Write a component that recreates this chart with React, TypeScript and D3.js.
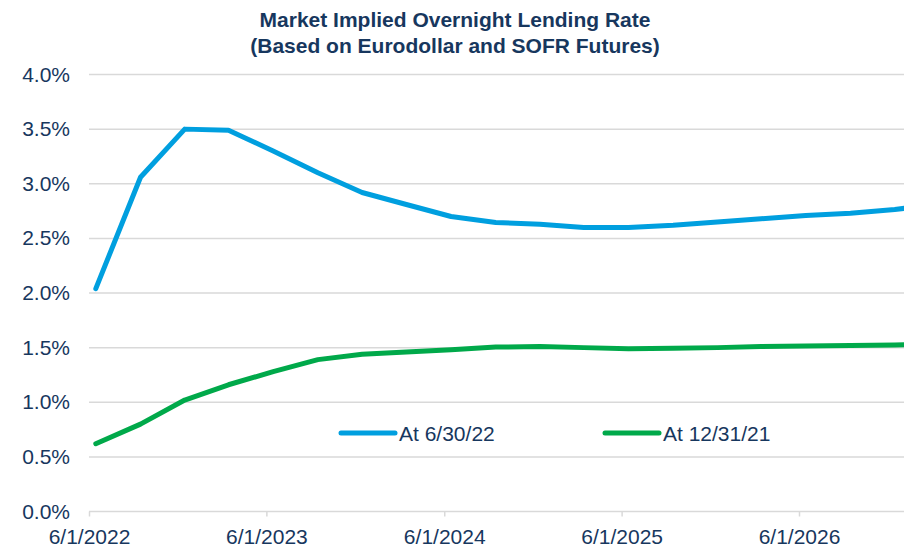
import React, { useRef, useEffect } from 'react'
import * as d3 from 'd3'

const dates = [
  '2022-06-15', '2022-09-15', '2022-12-15', '2023-03-15', '2023-06-15',
  '2023-09-15', '2023-12-15', '2024-03-15', '2024-06-15', '2024-09-15',
  '2024-12-15', '2025-03-15', '2025-06-15', '2025-09-15', '2025-12-15',
  '2026-03-15', '2026-06-15', '2026-09-15', '2026-12-15', '2027-03-15',
]
const at63022 = [
  2.04, 3.06, 3.5, 3.49, 3.3, 3.1, 2.92, 2.81, 2.7, 2.645,
  2.63, 2.6, 2.6, 2.62, 2.65, 2.68, 2.71, 2.73, 2.765, 2.81,
]
const at123121 = [
  0.62, 0.8, 1.02, 1.16, 1.28, 1.39, 1.44, 1.46, 1.48, 1.505,
  1.51, 1.5, 1.49, 1.495, 1.5, 1.51, 1.515, 1.52, 1.525, 1.53,
]
const yTicks = [0, 0.5, 1, 1.5, 2, 2.5, 3, 3.5, 4]
const xTicks = ['2022-06-01', '2023-06-01', '2024-06-01', '2025-06-01', '2026-06-01']
const seriesNames = ['At 6/30/22', 'At 12/31/21']

const W = 904
const H = 549
const navy = '#17375e'
const blue = '#009fdf'
const green = '#00a94a'
const font = 'Liberation Sans, Arial, sans-serif'

const renderChart = (svg: SVGSVGElement) => {
  const svgD3 = d3.select(svg)
  svgD3.selectAll('*').remove()

  const parse = d3.timeParse('%Y-%m-%d')
  const left = 89
  const top = 74.5
  const bottom = 511.5

  const xScale = d3
    .scaleTime()
    .domain([parse(xTicks[0])!, parse(xTicks[4])!])
    .range([left, 799])
  const yScale = d3.scaleLinear().domain([0, 4]).range([bottom, top])

  // title
  const title = svgD3
    .append('text')
    .attr('text-anchor', 'middle')
    .attr('font-family', font)
    .attr('font-weight', 'bold')
    .attr('font-size', 21)
    .attr('fill', navy)
  title.append('tspan').attr('x', 455).attr('y', 26.5).text('Market Implied Overnight Lending Rate')
  title.append('tspan').attr('x', 455).attr('y', 52.5).text('(Based on Eurodollar and SOFR Futures)')

  // gridlines
  svgD3
    .append('g')
    .selectAll('line')
    .data(yTicks.slice(1))
    .enter()
    .append('line')
    .attr('x1', left)
    .attr('x2', W)
    .attr('y1', (d) => yScale(d))
    .attr('y2', (d) => yScale(d))
    .attr('stroke', '#d9d9d9')
    .attr('stroke-width', 1.5)

  // y labels
  svgD3
    .append('g')
    .selectAll('text')
    .data(yTicks)
    .enter()
    .append('text')
    .attr('x', 70)
    .attr('y', (d) => yScale(d) + 7)
    .attr('text-anchor', 'end')
    .attr('font-family', font)
    .attr('font-size', 21)
    .attr('fill', navy)
    .text((d) => d3.format('.1f')(d) + '%')

  // x axis
  const xAxis = d3
    .axisBottom(xScale)
    .tickValues(xTicks.map((t) => parse(t)!))
    .tickSize(5)
    .tickFormat((d) => d3.timeFormat('%-m/%-d/%Y')(d as Date))
  const gx = svgD3.append('g').attr('transform', `translate(0, ${bottom})`).call(xAxis)
  gx.select('.domain').remove()
  gx.selectAll('.tick line').attr('stroke', '#d9d9d9').attr('stroke-width', 1.5)
  gx.selectAll('.tick text')
    .attr('font-family', font)
    .attr('font-size', 21)
    .attr('fill', navy)
    .attr('dy', '0.85em')
    .attr('y', 15)
  svgD3
    .append('line')
    .attr('x1', left)
    .attr('x2', W)
    .attr('y1', bottom)
    .attr('y2', bottom)
    .attr('stroke', '#d9d9d9')
    .attr('stroke-width', 1.5)

  // lines
  const line = d3
    .line<number>()
    .x((d, i) => xScale(parse(dates[i])!))
    .y((d) => yScale(d))

  const plot = svgD3.append('g')
  ;[at123121, at63022].forEach((s, i) => {
    plot
      .append('path')
      .datum(s)
      .attr('fill', 'none')
      .attr('stroke', i === 0 ? green : blue)
      .attr('stroke-width', 5)
      .attr('stroke-linecap', 'round')
      .attr('stroke-linejoin', 'round')
      .attr('d', line)
  })

  // legend
  const legend = [
    { name: seriesNames[0], color: blue, x: 341 },
    { name: seriesNames[1], color: green, x: 605 },
  ]
  const lg = svgD3.append('g').selectAll('g').data(legend).enter().append('g')
  lg.append('line')
    .attr('x1', (d) => d.x)
    .attr('x2', (d) => d.x + 54)
    .attr('y1', 433)
    .attr('y2', 433)
    .attr('stroke', (d) => d.color)
    .attr('stroke-width', 5)
    .attr('stroke-linecap', 'round')
  lg.append('text')
    .attr('x', (d) => d.x + 58)
    .attr('y', 440.5)
    .attr('font-family', font)
    .attr('font-size', 21)
    .attr('fill', navy)
    .text((d) => d.name)
}

export default function App() {
  const ref = useRef<SVGSVGElement>(null)
  useEffect(() => {
    if (ref.current) renderChart(ref.current)
  }, [])
  return (
    <svg
      ref={ref}
      width={W}
      height={H}
      style={{ position: 'absolute', left: 0, top: 0, background: '#fff' }}
    />
  )
}
